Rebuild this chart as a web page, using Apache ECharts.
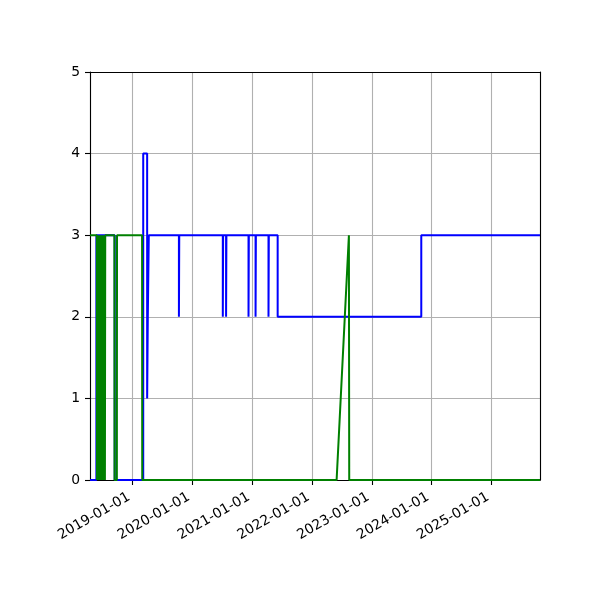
<!DOCTYPE html>
<html>
<head>
<meta charset="utf-8">
<script src="https://cdn.jsdelivr.net/npm/echarts@6/dist/echarts.min.js"></script>
<style>
html,body{margin:0;padding:0;background:#fff;}
#c{width:600px;height:600px;}
</style>
</head>
<body>
<div id="c"></div>
<script>
// Axis range
const xMinDate = '2018-04-16';
const xMaxDate = '2025-10-24';
const yTicks = [0, 1, 2, 3, 4, 5];

// Blue series (step, value holds from its date until the next one)
const blueDates = [
  '2018-04-16','2018-05-25','2018-09-14','2019-03-07','2019-03-31','2019-04-04','2019-04-10',
  '2019-10-11','2019-10-13','2020-07-05','2020-07-07','2020-07-25','2020-07-27',
  '2020-12-09','2020-12-11','2021-01-21','2021-01-23','2021-04-10','2021-04-12',
  '2021-06-05','2023-10-30','2025-10-24'
];
const blueValues = [
  0,3,0,4,1,2,3,
  2,3,2,3,2,3,
  2,3,2,3,2,3,
  2,3,3
];

// Green series (plain line between observations)
const greenDates = [
  '2018-04-16','2018-05-28',
  '2018-05-29','2018-05-31','2018-06-02','2018-06-04','2018-06-06','2018-06-08',
  '2018-06-10','2018-06-12','2018-06-14','2018-06-16','2018-06-18','2018-06-20',
  '2018-06-22','2018-06-24','2018-06-26','2018-06-28','2018-06-30','2018-07-02',
  '2018-07-04','2018-07-06','2018-07-08','2018-07-10','2018-07-12','2018-07-14',
  '2018-07-16','2018-07-18','2018-07-20',
  '2018-09-12','2018-09-13','2018-09-27','2018-09-28',
  '2019-02-28','2019-03-01',
  '2022-05-31','2022-08-14','2022-08-16','2025-10-24'
];
const greenValues = [
  3,3,
  0,3,0,3,0,3,
  0,3,0,3,0,3,
  0,3,0,3,0,3,
  0,3,0,3,0,3,
  0,3,3,
  3,0,0,3,
  3,0,
  0,3,0,0
];

function toTs(s){ const p = s.split('-').map(Number); return new Date(p[0], p[1]-1, p[2]).getTime(); }
function pad(n){ return (n<10?'0':'')+n; }
function fmt(v){ const d = new Date(v); return d.getFullYear()+'-'+pad(d.getMonth()+1)+'-'+pad(d.getDate()); }

const blueData = blueDates.map((d,i)=>[toTs(d), blueValues[i]]);
const greenData = greenDates.map((d,i)=>[toTs(d), greenValues[i]]);

const FONT = 'DejaVu Sans';
const YEAR = 365*24*3600*1000;
const spine = {show: true, onZero: false, lineStyle: {color: '#000', width: 1.1}};

const chart = echarts.init(document.getElementById('c'), null, {renderer:'canvas'});
chart.setOption({
  animation: false,
  backgroundColor: '#ffffff',
  grid: {
    left: 90, top: 72, width: 450, height: 408,
    show: false, containLabel: false, outerBoundsMode: 'none'
  },
  xAxis: [{
    type: 'time',
    min: toTs(xMinDate), max: toTs(xMaxDate),
    minInterval: YEAR, maxInterval: 366*24*3600*1000,
    axisLine: spine,
    axisTick: {show: true, inside: false, length: 5, lineStyle: {color: '#000', width: 1.1}},
    splitLine: {show: true, lineStyle: {color: '#b0b0b0', width: 1.1}},
    axisLabel: {
      rotate: 30, margin: 22, align: 'right', verticalAlign: 'bottom',
      color: '#000', fontFamily: FONT, fontSize: 13.9,
      showMinLabel: false, showMaxLabel: false, hideOverlap: false,
      formatter: function(v){ return fmt(v); }
    }
  }, {
    type: 'time', position: 'top',
    min: toTs(xMinDate), max: toTs(xMaxDate),
    axisLine: spine, axisTick: {show: false}, axisLabel: {show: false}, splitLine: {show: false}
  }],
  yAxis: [{
    type: 'value', min: yTicks[0], max: yTicks[yTicks.length-1], interval: 1,
    axisLine: spine,
    axisTick: {show: true, inside: false, length: 5, lineStyle: {color: '#000', width: 1.1}},
    splitLine: {show: true, lineStyle: {color: '#b0b0b0', width: 1.1}},
    axisLabel: {margin: 10, color: '#000', fontFamily: FONT, fontSize: 13.9}
  }, {
    type: 'value', position: 'right', min: yTicks[0], max: yTicks[yTicks.length-1],
    axisLine: spine, axisTick: {show: false}, axisLabel: {show: false}, splitLine: {show: false}
  }],
  series: [
    {
      type: 'line', name: 'blue', data: blueData, step: 'end',
      showSymbol: false, symbol: 'none', clip: true,
      lineStyle: {color: '#0000ff', width: 2}, z: 2
    },
    {
      type: 'line', name: 'green', data: greenData,
      showSymbol: false, symbol: 'none', clip: true,
      lineStyle: {color: '#008000', width: 2}, z: 3
    }
  ]
});
</script>
</body>
</html>
